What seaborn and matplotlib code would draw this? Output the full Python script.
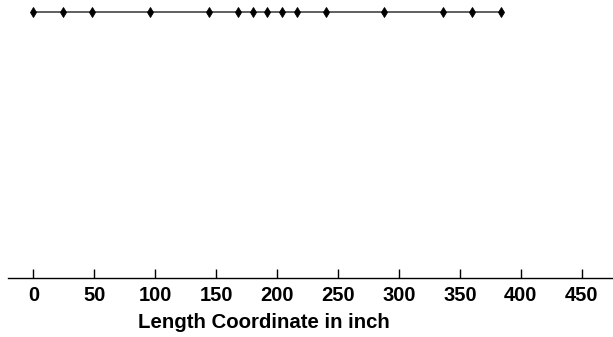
import matplotlib
matplotlib.use("Agg")
import matplotlib.pyplot as plt
from matplotlib import font_manager
import seaborn as sns
import pandas as pd

# Data
length_coords = [0, 24, 48, 96, 144, 168, 180, 192, 204, 216, 240, 288, 336, 360, 384]
row_level = [1] * len(length_coords)
tick_values = [0, 50, 100, 150, 200, 250, 300, 350, 400, 450]
x_label = "Length Coordinate in inch"

sns.set_theme(style="white")
names = {f.name for f in font_manager.fontManager.ttflist}
narrow = "Liberation Sans Narrow" if "Liberation Sans Narrow" in names else "Liberation Sans"
plt.rcParams["font.family"] = ["Liberation Sans", "DejaVu Sans"]

df = pd.DataFrame({"x": length_coords, "y": row_level})

fig = plt.figure(figsize=(6.13, 3.37), dpi=100)
ax = fig.add_axes([8 / 613, 59 / 337, 605 / 613, 278 / 337])
sns.lineplot(data=df, x="x", y="y", ax=ax, color="#444444", linewidth=1.2,
             marker="d", markersize=5.5, markerfacecolor="black",
             markeredgecolor="black", markeredgewidth=0.6)

ax.set_xlim(-20.8, 475.7)
ax.set_ylim(0, 1 / 0.957)
ax.set_xticks(tick_values)
ax.set_xticklabels([str(t) for t in tick_values], family=[narrow, "DejaVu Sans"],
                   fontweight="bold", fontsize=14.5)
ax.set_yticks([])
ax.set_xlabel("")
ax.set_ylabel("")
for side in ["top", "right", "left"]:
    ax.spines[side].set_visible(False)
ax.spines["bottom"].set_color("black")
ax.spines["bottom"].set_linewidth(1.0)
ax.tick_params(axis="x", direction="in", length=6.5, width=1.0, color="black",
               pad=6, labelcolor="black", bottom=True)

fig.text(264 / 613, 9.3 / 337, x_label, ha="center", va="baseline",
         fontsize=14.7, fontweight="bold", color="black")

fig.savefig("out.png", dpi=100, facecolor="white")
